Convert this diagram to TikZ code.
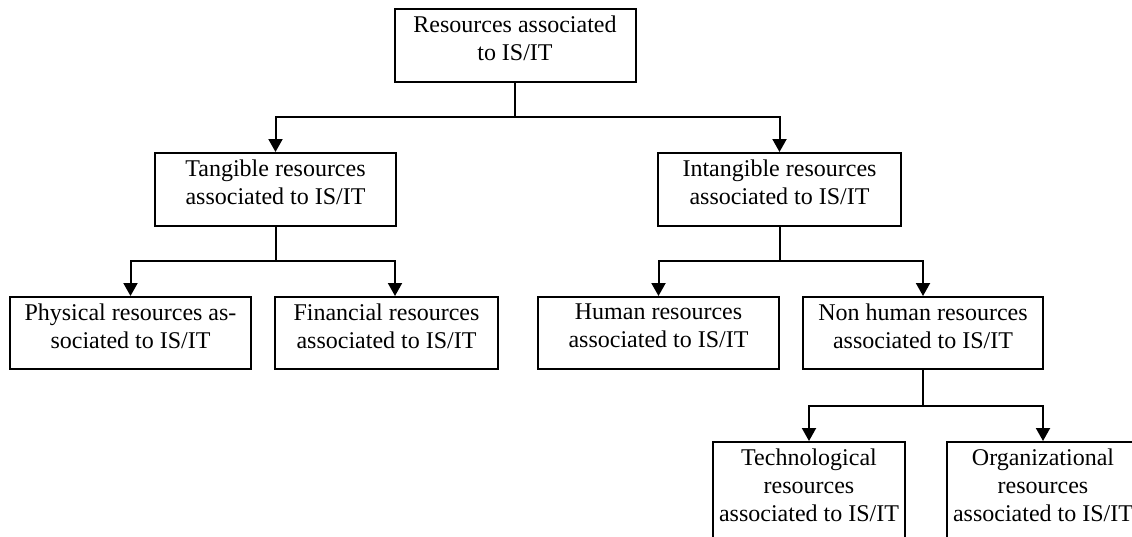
\documentclass[tikz,border=0pt]{standalone}
\usepackage{fontspec}
\setmainfont{Liberation Serif}
\usetikzlibrary{arrows.meta}
\begin{document}
\begin{tikzpicture}[x=1pt,y=-1pt,
  box/.style={draw,line width=2pt,rectangle,inner sep=0pt},
  txt/.style={align=center,inner sep=0pt,anchor=north,yshift=-8pt,font=\fontsize{24}{28}\selectfont},
  arr/.style={line width=2pt,-{Triangle[width=14pt,length=13pt]}},
  conn/.style={line width=2pt}]
\useasboundingbox (0,0) rectangle (1132,536);
\clip (0,0) rectangle (1132,536);
% boxes
\node[box,minimum width=241pt,minimum height=73pt] (top) at (515,45.5) {};
\node[txt] at (top.north) {Resources associated\\to IS/IT};
\node[box,minimum width=241pt,minimum height=73pt] (tang) at (275.5,189.5) {};
\node[txt] at (tang.north) {Tangible resources\\associated to IS/IT};
\node[box,minimum width=243pt,minimum height=73pt] (intang) at (779.5,189.5) {};
\node[txt] at (intang.north) {Intangible resources\\associated to IS/IT};
\node[box,minimum width=241pt,minimum height=72pt] (phys) at (130.5,333) {};
\node[txt] at (phys.north) {Physical resources as-\\sociated to IS/IT};
\node[box,minimum width=223pt,minimum height=72pt] (fin) at (386.5,333) {};
\node[txt] at (fin.north) {Financial resources\\associated to IS/IT};
\node[box,minimum width=241pt,minimum height=72pt] (hum) at (658.5,333) {};
\node[txt] at (hum.north) {Human resources\\associated to IS/IT};
\node[box,minimum width=240pt,minimum height=72pt] (nonhum) at (923,333) {};
\node[txt] at (nonhum.north) {Non human resources\\associated to IS/IT};
\node[box,minimum width=192pt,minimum height=110pt] (tech) at (809,497) {};
\node[txt] at (tech.north) {Technological\\resources\\associated to IS/IT};
\node[box,minimum width=192pt,minimum height=110pt] (org) at (1043,497) {};
\node[txt] at (org.north) {Organizational\\resources\\associated to IS/IT};
% junctions
\coordinate (j1) at (515,117);
\coordinate (j2) at (275.5,261);
\coordinate (j2r) at (395,261);
\coordinate (j3) at (779.5,261);
\coordinate (j4) at (923,406);
% connectors
\draw[conn] (top.south) -- (j1);
\draw[arr] (j1) -| (tang.north);
\draw[arr] (j1) -| (intang.north);
\draw[conn] (tang.south) -- (j2);
\draw[arr] (j2) -| (phys.north);
\draw[arr] (j2) -- (j2r) -- (j2r |- fin.north);
\draw[conn] (intang.south) -- (j3);
\draw[arr] (j3) -| (hum.north);
\draw[arr] (j3) -| (nonhum.north);
\draw[conn] (nonhum.south) -- (j4);
\draw[arr] (j4) -| (tech.north);
\draw[arr] (j4) -| (org.north);
\end{tikzpicture}
\end{document}
